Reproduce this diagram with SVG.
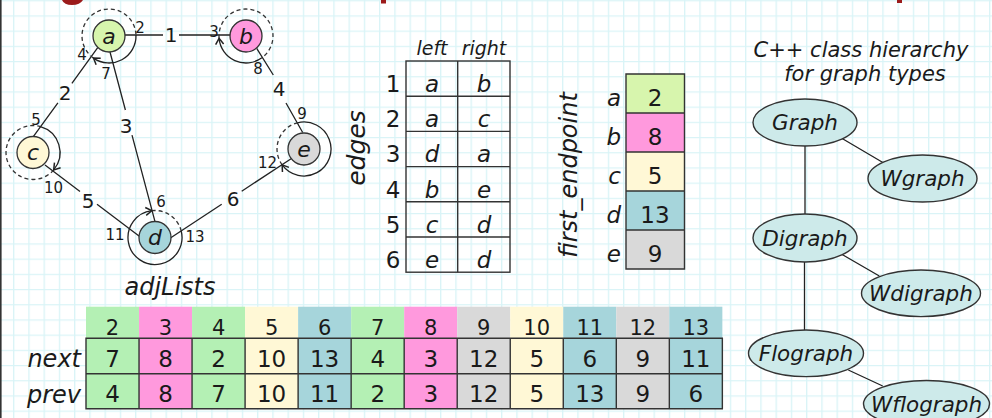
<svg xmlns="http://www.w3.org/2000/svg" width="992" height="418" viewBox="0 0 992 418">
<defs>
<pattern id="grid" width="15.25" height="15.2" patternUnits="userSpaceOnUse" x="13.05" y="0.2">
<path d="M0.65 0 V15.2 M0 0.65 H15.25" stroke="#d9f4f7" stroke-width="1.3" fill="none"/>
</pattern>
<marker id="ah" markerWidth="10" markerHeight="12" viewBox="-8 -6 10 12" refX="0" refY="0" orient="auto" markerUnits="userSpaceOnUse" overflow="visible">
<path d="M-6,-4 L0,0 L-6,4" fill="none" stroke="#222" stroke-width="1.5"/>
</marker>
<style>
.t{font-family:"DejaVu Sans","Liberation Sans",sans-serif;fill:#1a1a1a}
.i{font-style:italic}
.ln{stroke:#222;stroke-width:1.3;fill:none}
.solid{stroke:#222;stroke-width:1.3;fill:none;marker-end:url(#ah)}
.dash{stroke:#333;stroke-width:1.3;fill:none;stroke-dasharray:4 3}
.nd{stroke:#333;stroke-width:1.3}
.nl{font-size:22px;text-anchor:middle}
.ep{font-size:15px;text-anchor:middle}
.el{font-size:20px;text-anchor:middle}
.tb{stroke:#333;stroke-width:1.4;fill:none}
.ga{fill:#d7f5ad}.gb{fill:#ff99dd}.gc{fill:#fff8d6}.gd{fill:#a6d5db}.ge{fill:#d9d9d9}.gg{fill:#b4f0b4}
.ell{fill:#cdeaea;stroke:#333;stroke-width:1.4}
.cell{font-size:23px;text-anchor:middle}
.arr{font-size:23px;text-anchor:middle}
</style>
</defs>
<rect width="992" height="418" fill="#ffffff"/>
<rect width="992" height="418" fill="url(#grid)"/>
<rect x="0" y="0" width="1.6" height="418" fill="#333"/>
<path d="M62,0 L83,0 Q80,5 72,5 Q64,5 62,0 Z" fill="#9b1b1b"/>
<rect x="381" y="0" width="5" height="3.5" fill="#9b1b1b"/>
<rect x="897" y="0" width="5" height="3" fill="#9b1b1b"/>

<g id="connectors">
<path class="ln" d="M125,35 H163 M179,35 H230"/>
<text class="t el" x="171" y="42">1</text>
<path class="ln" d="M97.7,47.7 L71.9,83.3 M57.9,102.8 L33.3,136.7"/>
<text class="t el" x="65" y="100">2</text>
<path class="ln" d="M110,52 L125.4,110 M132,135.1 L155,221.7"/>
<text class="t el" x="126" y="133">3</text>
<path class="ln" d="M256.7,48.3 L273.3,75 M286,103 L302.7,132.5"/>
<text class="t el" x="279" y="96">4</text>
<path class="ln" d="M45,165 L80,191.4 M97,204.2 L140,236.7"/>
<text class="t el" x="88" y="208">5</text>
<path class="ln" d="M170.8,237.7 L221.7,204.3 M241.7,191.2 L291.1,158.7"/>
<text class="t el" x="233" y="206">6</text>
</g>

<g id="node-a">
<path class="dash" d="M93.51,58.12 A27,27 0 1 1 135.98,35.06"/>
<path class="solid" d="M135.98,35.06 A27,27 0 0 1 93.51,58.12"/>
<circle class="nd ga" cx="109" cy="36" r="16"/>
<text class="t i nl" x="109" y="43.5">a</text>
<text class="t ep" x="140" y="32.5">2</text>
<text class="t ep" x="82" y="59.5">4</text>
<text class="t ep" x="106" y="78.5">7</text>
</g>
<g id="node-b">
<path class="dash" d="M219.10,38.35 A27,27 0 1 1 261.87,57.84"/>
<path class="solid" d="M261.87,57.84 A27,27 0 0 1 219.10,38.35"/>
<circle class="nd gb" cx="246" cy="36" r="16"/>
<text class="t i nl" x="246" y="43.5">b</text>
<text class="t ep" x="214" y="36.5">3</text>
<text class="t ep" x="258" y="73.5">8</text>
</g>
<g id="node-c">
<path class="dash" d="M53.68,169.86 A27,27 0 1 1 40.44,126.54"/>
<path class="solid" d="M40.44,126.54 A27,27 0 0 1 53.68,169.86"/>
<circle class="nd gc" cx="33" cy="152.5" r="16"/>
<text class="t i nl" x="33" y="160">c</text>
<text class="t ep" x="36" y="124.5">5</text>
<text class="t ep" x="53.5" y="192.5">10</text>
</g>
<g id="node-d">
<path class="dash" d="M151.71,210.70 A27,27 0 0 1 181.08,230.51"/>
<path class="solid" d="M181.08,230.51 A27,27 0 1 1 151.71,210.70"/>
<circle class="nd gd" cx="155" cy="237.5" r="16"/>
<text class="t i nl" x="155" y="245">d</text>
<text class="t ep" x="161" y="206.5">6</text>
<text class="t ep" x="115" y="240">11</text>
<text class="t ep" x="195" y="241.5">13</text>
</g>
<g id="node-e">
<path class="dash" d="M282.16,164.87 A27,27 0 0 1 297.47,122.80"/>
<path class="solid" d="M297.47,122.80 A27,27 0 1 1 282.16,164.87"/>
<circle class="nd ge" cx="304" cy="149" r="16"/>
<text class="t i nl" x="304" y="156.5">e</text>
<text class="t ep" x="302" y="118.5">9</text>
<text class="t ep" x="267.5" y="168">12</text>
</g>

<g id="edges-table">
<text class="t i" x="365" y="148" font-size="25" text-anchor="middle" transform="rotate(-90 365 148)">edges</text>
<text class="t i" x="432" y="55" font-size="19" text-anchor="middle">left</text>
<text class="t i" x="484" y="55" font-size="19" text-anchor="middle">right</text>
<rect class="tb" x="406" y="61" width="104" height="211.2"/>
<path class="tb" d="M457.7,61 V272.2 M406,96.2 H510 M406,131.4 H510 M406,166.6 H510 M406,201.8 H510 M406,237 H510"/>
<g class="t cell">
<text x="393" y="92">1</text><text x="393" y="127.2">2</text><text x="393" y="162.4">3</text><text x="393" y="197.6">4</text><text x="393" y="232.8">5</text><text x="393" y="268">6</text>
</g>
<g class="t i cell">
<text x="432" y="92">a</text><text x="484" y="92">b</text>
<text x="432" y="127.2">a</text><text x="484" y="127.2">c</text>
<text x="432" y="162.4">d</text><text x="484" y="162.4">a</text>
<text x="432" y="197.6">b</text><text x="484" y="197.6">e</text>
<text x="432" y="232.8">c</text><text x="484" y="232.8">d</text>
<text x="432" y="268">e</text><text x="484" y="268">d</text>
</g>
</g>

<g id="first-endpoint">
<text class="t i" x="577" y="175" font-size="24" text-anchor="middle" transform="rotate(-90 577 175)">first_endpoint</text>
<rect class="ga" x="626" y="74" width="58.5" height="39"/>
<rect class="gb" x="626" y="113" width="58.5" height="39"/>
<rect class="gc" x="626" y="152" width="58.5" height="39"/>
<rect class="gd" x="626" y="191" width="58.5" height="39"/>
<rect class="ge" x="626" y="230" width="58.5" height="39"/>
<path class="tb" d="M626,74 H684.5 V269 H626 Z M626,113 H684.5 M626,152 H684.5 M626,191 H684.5 M626,230 H684.5"/>
<g class="t i" font-size="23" text-anchor="end">
<text x="621" y="105.5">a</text><text x="621" y="144.5">b</text><text x="621" y="183.5">c</text><text x="621" y="222.5">d</text><text x="621" y="261.5">e</text>
</g>
<g class="t arr">
<text x="655" y="105.5">2</text><text x="655" y="144.5">8</text><text x="655" y="183.5">5</text><text x="655" y="222.5">13</text><text x="655" y="261.5">9</text>
</g>
</g>

<g id="adjlists">
<text class="t i" x="170" y="295" font-size="24" text-anchor="middle">adjLists</text>
<text class="t i" x="81" y="367" font-size="24" text-anchor="end">next</text>
<text class="t i" x="81" y="403" font-size="24" text-anchor="end">prev</text>
<rect class="gg" x="86" y="306.7" width="53.03" height="102"/>
<rect class="gb" x="139.03" y="306.7" width="53.03" height="102"/>
<rect class="gg" x="192.06" y="306.7" width="53.03" height="102"/>
<rect class="gc" x="245.09" y="306.7" width="53.03" height="102"/>
<rect class="gd" x="298.12" y="306.7" width="53.03" height="102"/>
<rect class="gg" x="351.15" y="306.7" width="53.03" height="102"/>
<rect class="gb" x="404.18" y="306.7" width="53.03" height="102"/>
<rect class="ge" x="457.21" y="306.7" width="53.03" height="102"/>
<rect class="gc" x="510.24" y="306.7" width="53.03" height="102"/>
<rect class="gd" x="563.27" y="306.7" width="53.03" height="102"/>
<rect class="ge" x="616.3" y="306.7" width="53.03" height="102"/>
<rect class="gd" x="669.33" y="306.7" width="53.03" height="102"/>
<path class="tb" d="M86,338.3 H722.36 V408.7 H86 Z M86,373.7 H722.36 M139.03,338.3 V408.7 M192.06,338.3 V408.7 M245.09,338.3 V408.7 M298.12,338.3 V408.7 M351.15,338.3 V408.7 M404.18,338.3 V408.7 M457.21,338.3 V408.7 M510.24,338.3 V408.7 M563.27,338.3 V408.7 M616.3,338.3 V408.7 M669.33,338.3 V408.7"/>
<g class="t" font-size="21" text-anchor="middle">
<text x="112.5" y="335">2</text><text x="165.5" y="335">3</text><text x="218.6" y="335">4</text><text x="271.6" y="335">5</text><text x="324.6" y="335">6</text><text x="377.7" y="335">7</text><text x="430.7" y="335">8</text><text x="483.7" y="335">9</text><text x="536.7" y="335">10</text><text x="589.8" y="335">11</text><text x="642.8" y="335">12</text><text x="695.8" y="335">13</text>
</g>
<g class="t arr">
<text x="112.5" y="366.5">7</text><text x="165.5" y="366.5">8</text><text x="218.6" y="366.5">2</text><text x="271.6" y="366.5">10</text><text x="324.6" y="366.5">13</text><text x="377.7" y="366.5">4</text><text x="430.7" y="366.5">3</text><text x="483.7" y="366.5">12</text><text x="536.7" y="366.5">5</text><text x="589.8" y="366.5">6</text><text x="642.8" y="366.5">9</text><text x="695.8" y="366.5">11</text>
<text x="112.5" y="402">4</text><text x="165.5" y="402">8</text><text x="218.6" y="402">7</text><text x="271.6" y="402">10</text><text x="324.6" y="402">11</text><text x="377.7" y="402">2</text><text x="430.7" y="402">3</text><text x="483.7" y="402">12</text><text x="536.7" y="402">5</text><text x="589.8" y="402">13</text><text x="642.8" y="402">9</text><text x="695.8" y="402">6</text>
</g>
</g>

<g id="hierarchy-title">
<text class="t i" x="861" y="57" font-size="21" text-anchor="middle">C++ class hierarchy</text>
<text class="t i" x="865" y="81" font-size="21" text-anchor="middle">for graph types</text>
</g>
<g id="hierarchy-links">
<path class="ln" d="M805,146 V214 M804.5,262 V330 M841.7,138.3 L883.3,162.7 M841.7,254.3 L879.3,276 M848.3,370 L882.7,386" stroke-width="1.4"/>
</g>
<g id="Graph"><ellipse class="ell" cx="805" cy="122.5" rx="52" ry="23.5"/><text class="t i" x="805" y="130" font-size="21.5" text-anchor="middle">Graph</text></g>
<g id="Wgraph"><ellipse class="ell" cx="922.5" cy="178.5" rx="54.5" ry="23.5"/><text class="t i" x="922.5" y="186" font-size="21.5" text-anchor="middle">Wgraph</text></g>
<g id="Digraph"><ellipse class="ell" cx="805" cy="238" rx="52" ry="24"/><text class="t i" x="805" y="245.5" font-size="21.5" text-anchor="middle">Digraph</text></g>
<g id="Wdigraph"><ellipse class="ell" cx="921" cy="293.3" rx="59.5" ry="23.3"/><text class="t i" x="921" y="300.8" font-size="21.5" text-anchor="middle">Wdigraph</text></g>
<g id="Flograph"><ellipse class="ell" cx="806" cy="353.3" rx="57.5" ry="23.3"/><text class="t i" x="806" y="360.8" font-size="21.5" text-anchor="middle">Flograph</text></g>
<g id="Wflograph"><ellipse class="ell" cx="926.5" cy="404" rx="63" ry="23.5"/><text class="t i" x="926.5" y="411.5" font-size="21.5" text-anchor="middle">Wflograph</text></g>
</svg>
